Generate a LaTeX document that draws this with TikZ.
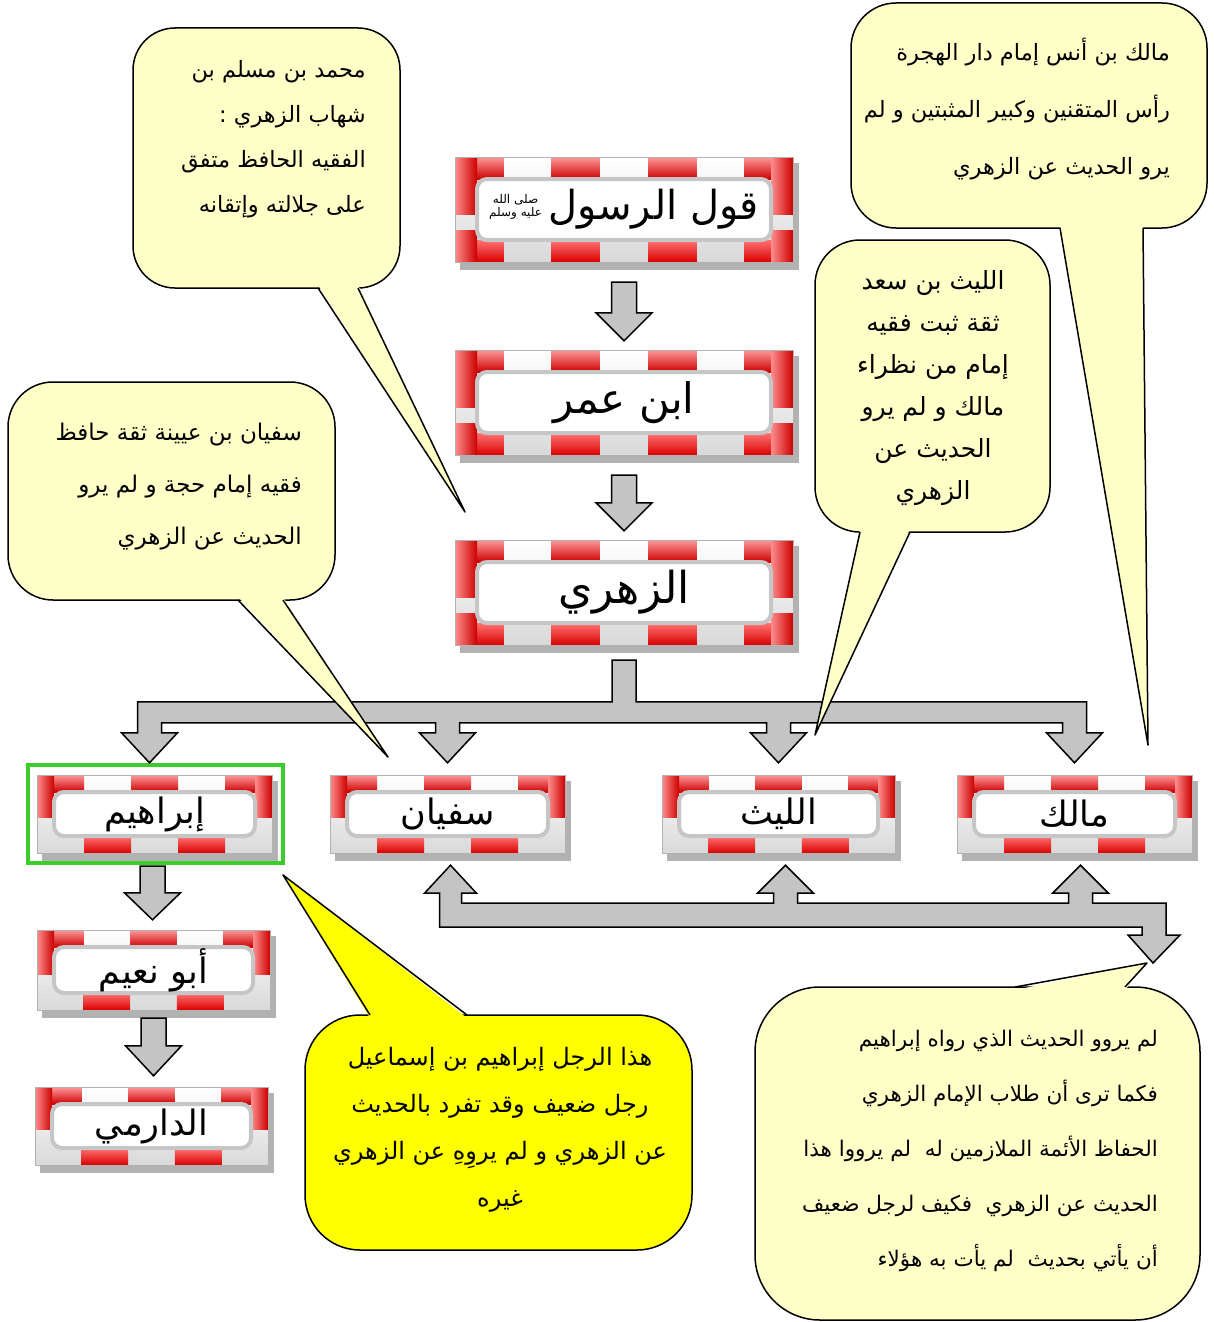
\documentclass[tikz,border=0pt]{standalone}
\usepackage{fontspec}
\newfontfamily\arabicfont[Script=Arabic]{DejaVu Sans}
\TeXXeTstate=1
\usetikzlibrary{calc}
\newcommand\AR[1]{{\arabicfont\beginR #1\endR}}
\definecolor{paleY}{RGB}{255,255,200}
\definecolor{brightY}{RGB}{255,255,0}
\definecolor{frameG}{RGB}{60,205,45}
\definecolor{arrG}{RGB}{196,196,196}
\tikzset{
  barrow/.style={fill=arrG, draw=black, line width=1.5pt, line join=miter},
  callout/.style={draw=black, line width=1.5pt, inner sep=0pt},
  ctext/.style={inner sep=0pt, font=\fontsize{23}{47}\selectfont},
  rtop/.style={top color=red!40, bottom color=red!80!black},
  rbot/.style={top color=red!55, bottom color=red!85!black},
  rside/.style={left color=red!45, right color=red!80!black},
}
\newcommand\RWbox[7]{%
  \pgfmathsetmacro\rwW{#4-#2}%
  \pgfmathsetmacro\rwH{#5-#3}%
  \pgfmathsetmacro\rwS{(#4-#2)/#6}%
  \pgfmathsetmacro\rwT{ifthenelse(#6==7,22,17)}%
  \fill[black,opacity=.3] ({#2+5},{#3+6}) rectangle ({#4+6},{#5+8});
  \shade[top color=white, bottom color=gray!30] (#2,#3) rectangle (#4,#5);
  \foreach \i in {1,...,#6}{%
    \ifodd\i
      \shade[rtop] ({#2+(\i-1)*\rwS},#3) rectangle ({#2+\i*\rwS},{#3+\rwT});
      \ifnum#6=7
        \shade[rbot] ({#2+(\i-1)*\rwS},{#5-\rwT}) rectangle ({#2+\i*\rwS},#5);
      \fi
    \else
      \ifnum#6=5
        \shade[rbot] ({#2+(\i-1)*\rwS},{#5-\rwT}) rectangle ({#2+\i*\rwS},#5);
      \fi
    \fi
  }
  \shade[rside] (#2,#3) rectangle ({#2+\rwT},{#3+0.55*\rwH});
  \shade[rside] ({#4-\rwT},#3) rectangle (#4,{#3+0.55*\rwH});
  \ifnum#6=7
    \shade[rside] (#2,{#5-0.3*\rwH}) rectangle ({#2+\rwT},#5);
    \shade[rside] ({#4-\rwT},{#5-0.3*\rwH}) rectangle (#4,#5);
  \fi
  \draw[gray!60, line width=.6pt] (#2,#3) rectangle (#4,#5);
  \draw[gray!45, line width=4pt, fill=white, rounded corners=10pt] ({#2+\rwT},{#3+\rwT}) rectangle ({#4-\rwT},{#5-\rwT});
  \node[inner sep=0pt, minimum width=\rwW*1pt, minimum height=\rwH*1pt] (#1) at ({(#2+#4)/2},{(#3+#5)/2}) {#7};
}
\newcommand\BlockDown[3]{%
  \draw[barrow] let \p1=#1, \p2=#2 in
    (\x1-12.5pt,\y1) -- (\x1+12.5pt,\y1) -- (\x1+12.5pt,\y2+#3) -- (\x1+28pt,\y2+#3)
    -- (\x1,\y2) -- (\x1-28pt,\y2+#3) -- (\x1-12.5pt,\y2+#3) -- cycle;
}
\newcommand\Pointer[5]{%
  \fill[#1] ($#2+#5$) -- #4 -- ($#3+#5$) -- cycle;
  \draw[line width=1.5pt, line join=round] #2 -- #4 -- #3;
}
\begin{document}
\begin{tikzpicture}[x=1pt, y=-1pt]
\useasboundingbox (0,0) rectangle (1213,1322);
\fill[white] (0,0) rectangle (1213,1322);

% ---- boxes ----
\RWbox{q}{455}{157}{793}{262}{7}{\fontsize{40}{42}\selectfont
  \raisebox{3pt}{\fontsize{12}{13}\selectfont\shortstack{\AR{صلى الله}\\\AR{عليه وسلم}}}\,\AR{قول الرسول}}
\RWbox{u}{455}{350}{793}{455}{7}{\fontsize{42}{44}\selectfont\AR{ابن عمر}}
\RWbox{z}{455}{540}{793}{645}{7}{\fontsize{44}{46}\selectfont\AR{الزهري}}
\draw[frameG, line width=4pt] (28,765) rectangle (283,863);
\RWbox{ib}{37}{775}{272}{853}{5}{\fontsize{35}{37}\selectfont\AR{إبراهيم}}
\RWbox{sf}{330}{775}{565}{853}{5}{\fontsize{35}{37}\selectfont\AR{سفيان}}
\RWbox{ly}{662}{775}{895}{853}{5}{\fontsize{35}{37}\selectfont\AR{الليث}}
\RWbox{mk}{957}{775}{1192}{853}{5}{\fontsize{35}{37}\selectfont\AR{مالك}}
\RWbox{an}{37}{930}{270}{1010}{5}{\fontsize{35}{37}\selectfont\AR{أبو نعيم}}
\RWbox{dr}{35}{1087}{268}{1165}{5}{\fontsize{35}{37}\selectfont\AR{الدارمي}}

% ---- straight block arrows ----
\coordinate (a1s) at ($(q.south)+(0,20)$);
\coordinate (a1t) at ($(u.north)+(0,-9)$);
\BlockDown{(a1s)}{(a1t)}{28pt}
\coordinate (a2s) at ($(u.south)+(0,20)$);
\coordinate (a2t) at ($(z.north)+(0,-9)$);
\BlockDown{(a2s)}{(a2t)}{28pt}
\coordinate (a3s) at ($(ib.south)+(-2,13)$);
\coordinate (a3t) at ($(an.north)+(0,-10)$);
\BlockDown{(a3s)}{(a3t)}{27pt}
\coordinate (a4s) at ($(an.south)+(0,8)$);
\coordinate (a4t) at ($(dr.north)+(0,-11)$);
\BlockDown{(a4s)}{(a4t)}{30pt}

% ---- branching arrow from al-Zuhri ----
\draw[barrow] let \p0=(z.south), \p1=(ib.north), \p2=(sf.north), \p3=(ly.north), \p4=(mk.north) in
  (\x0-12pt,\y0-15pt) -- (\x0-12pt,\y1+73pt) -- (\x1-17pt,\y1+73pt) -- (\x1-17pt,\y1+42pt)
  -- (\x1-33pt,\y1+42pt) -- (\x1-5pt,\y1+12pt) -- (\x1+23pt,\y1+42pt) -- (\x1+7pt,\y1+42pt)
  -- (\x1+7pt,\y1+52pt)
  -- (\x2-12pt,\y1+52pt) -- (\x2-12pt,\y1+42pt) -- (\x2-28pt,\y1+42pt) -- (\x2,\y1+12pt)
  -- (\x2+28pt,\y1+42pt) -- (\x2+12pt,\y1+42pt) -- (\x2+12pt,\y1+52pt)
  -- (\x3-12pt,\y1+52pt) -- (\x3-12pt,\y1+42pt) -- (\x3-28pt,\y1+42pt) -- (\x3,\y1+12pt)
  -- (\x3+28pt,\y1+42pt) -- (\x3+12pt,\y1+42pt) -- (\x3+12pt,\y1+52pt)
  -- (\x4-12pt,\y1+52pt) -- (\x4-12pt,\y1+42pt) -- (\x4-28pt,\y1+42pt) -- (\x4,\y1+12pt)
  -- (\x4+28pt,\y1+42pt) -- (\x4+12pt,\y1+42pt) -- (\x4+12pt,\y1+73pt)
  -- (\x0+12pt,\y1+73pt) -- (\x0+12pt,\y0-15pt) -- cycle;

% ---- lower double connector ----
\coordinate (dn) at (1153,963);
\draw[barrow] let \p1=(sf.south), \p2=(ly.south), \p3=(mk.south), \p4=(dn) in
  (\x1-8pt,\y1-74pt) -- (\x1-8pt,\y1-40pt) -- (\x1-23pt,\y1-40pt) -- (\x1+3pt,\y1-12pt)
  -- (\x1+29pt,\y1-40pt) -- (\x1+14pt,\y1-40pt) -- (\x1+14pt,\y1-50pt)
  -- (\x2-5pt,\y1-50pt) -- (\x2-5pt,\y1-40pt) -- (\x2-21pt,\y1-40pt) -- (\x2+7pt,\y1-12pt)
  -- (\x2+35pt,\y1-40pt) -- (\x2+19pt,\y1-40pt) -- (\x2+19pt,\y1-50pt)
  -- (\x3-6pt,\y1-50pt) -- (\x3-6pt,\y1-40pt) -- (\x3-22pt,\y1-40pt) -- (\x3+6pt,\y1-12pt)
  -- (\x3+34pt,\y1-40pt) -- (\x3+18pt,\y1-40pt) -- (\x3+18pt,\y1-50pt)
  -- (\x4+13pt,\y1-50pt) -- (\x4+13pt,\y4+28pt) -- (\x4+27pt,\y4+28pt) -- (\x4,\y4)
  -- (\x4-25pt,\y4+28pt) -- (\x4-11pt,\y4+28pt) -- (\x4-11pt,\y1-74pt) -- cycle;

% ---- callouts ----
\node[callout, fill=paleY, rounded corners=42pt, minimum width=267pt, minimum height=260pt] (n1) at (266.5,158) {};
\coordinate (p1) at (465,512);
\Pointer{paleY}{(318,288)}{(358,288)}{(p1)}{(0,-3)}
\node[ctext, align=right, anchor=north east, font=\fontsize{22.5}{45}\selectfont] (t1) at (366,60)
  {\AR{محمد بن مسلم بن}\\\AR{شهاب الزهري :}\\\AR{الفقيه الحافظ متفق}\\\AR{على جلالته وإتقانه}};

\node[callout, fill=paleY, rounded corners=45pt, minimum width=356pt, minimum height=225pt] (n2) at (1029,115.5) {};
\coordinate (p2) at (1148,745);
\Pointer{paleY}{(1060,228)}{(1143,228)}{(p2)}{(0,-3)}
\node[ctext, align=right, anchor=north east, font=\fontsize{22.5}{57}\selectfont] (t2) at (1170,38)
  {\AR{مالك بن أنس إمام دار الهجرة}\\\AR{رأس المتقنين وكبير المثبتين و لم}\\\AR{يرو الحديث عن الزهري}};

\node[callout, fill=paleY, rounded corners=45pt, minimum width=235pt, minimum height=292pt] (n3) at (932.5,386) {};
\coordinate (p3) at (815,735);
\Pointer{paleY}{(860,532)}{(910,532)}{(p3)}{(0,-3)}
\node[ctext, align=center, anchor=north, font=\fontsize{25}{42}\selectfont] (t3) at (933,270)
  {\AR{الليث بن سعد}\\\AR{ثقة ثبت فقيه}\\\AR{إمام من نظراء}\\\AR{مالك و لم يرو}\\\AR{الحديث عن}\\\AR{الزهري}};

\node[callout, fill=paleY, rounded corners=45pt, minimum width=327pt, minimum height=218pt] (n4) at (171.5,491) {};
\coordinate (p4) at (388,757);
\Pointer{paleY}{(238,600)}{(283,600)}{(p4)}{(0,-3)}
\node[ctext, align=right, anchor=north east, font=\fontsize{23}{52}\selectfont] (t4) at (302,423)
  {\AR{سفيان بن عيينة ثقة حافظ}\\\AR{فقيه إمام حجة و لم يرو}\\\AR{الحديث عن الزهري}};

\node[callout, fill=brightY, rounded corners=55pt, minimum width=387pt, minimum height=235pt] (n5) at (498.5,1132.5) {};
\coordinate (p5) at (283,875);
\Pointer{brightY}{(370,1015)}{(467,1015)}{(p5)}{(0,3)}
\node[ctext, align=center, anchor=north, font=\fontsize{24}{47}\selectfont] (t5) at (500,1047)
  {\AR{هذا الرجل إبراهيم بن إسماعيل}\\\AR{رجل ضعيف وقد تفرد بالحديث}\\\AR{عن الزهري و لم يروِهِ عن الزهري}\\\AR{غيره}};

\node[callout, fill=paleY, rounded corners=65pt, minimum width=445pt, minimum height=333pt] (n6) at (977.5,1153.5) {};
\coordinate (p6) at (1147,963);
\Pointer{paleY}{(1015,987)}{(1125,987)}{(p6)}{(0,3)}
\node[ctext, align=right, anchor=north east, font=\fontsize{21.5}{55}\selectfont] (t6) at (1158,1030)
  {\AR{لم يروو الحديث الذي رواه إبراهيم}\\\AR{فكما ترى أن طلاب الإمام الزهري}\\\AR{الحفاظ الأئمة الملازمين له \ لم يرووا هذا}\\\AR{الحديث عن الزهري \ فكيف لرجل ضعيف}\\\AR{أن يأتي بحديث \ لم يأت به هؤلاء}};
\end{tikzpicture}
\end{document}
